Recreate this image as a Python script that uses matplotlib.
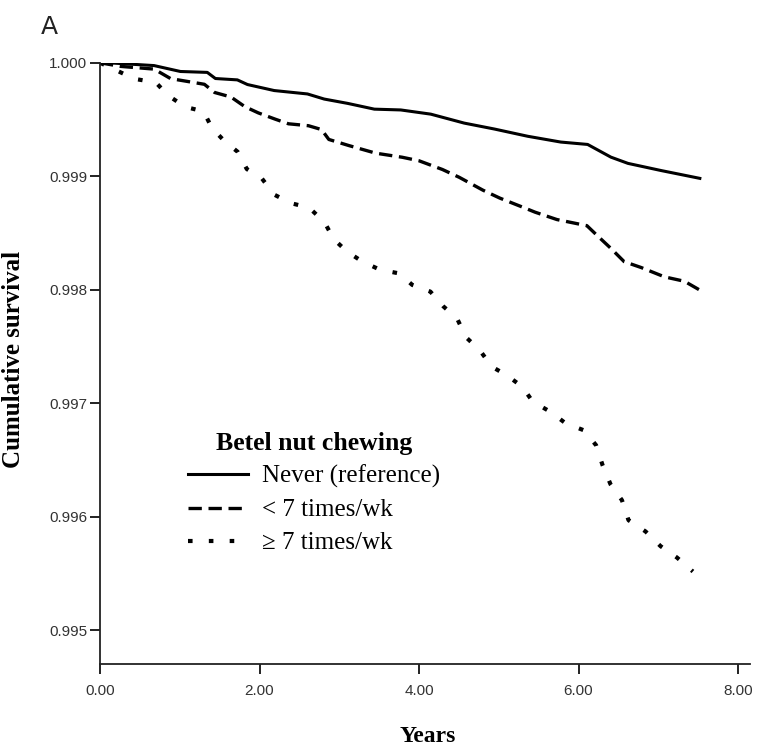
import numpy as np
import matplotlib
matplotlib.use("Agg")
import matplotlib.pyplot as plt

# cumulative survival (years, survival)
never_years = [0.0, 0.094, 0.678, 1.008, 1.345, 1.447, 1.722, 1.849, 2.184, 2.601,
               2.811, 3.104, 3.44, 3.771, 4.147, 4.567, 4.944, 5.363, 5.777, 6.114,
               6.406, 6.62, 7.035, 7.521]
never_surv = [1.0, 1.0, 0.999975, 0.999923, 0.999915, 0.999861, 0.999849, 0.999808,
              0.999755, 0.999725, 0.99968, 0.999642, 0.999591, 0.999584, 0.999547,
              0.999468, 0.999416, 0.999352, 0.999301, 0.99928, 0.999168, 0.999113,
              0.99905, 0.998981]

lt7_years = [0.0, 0.257, 0.679, 0.886, 1.099, 1.309, 1.437, 1.642, 1.816, 1.985,
             2.196, 2.363, 2.614, 2.778, 2.869, 3.121, 3.457, 3.79, 4.0, 4.294,
             4.505, 4.801, 5.013, 5.307, 5.455, 5.729, 6.105, 6.233, 6.404, 6.572,
             6.786, 7.077, 7.328, 7.519]
lt7_surv = [1.0, 0.999968, 0.999944, 0.99986, 0.999835, 0.99981, 0.999738, 0.999698,
            0.999613, 0.999558, 0.999503, 0.999462, 0.999445, 0.999411, 0.999324,
            0.99927, 0.999203, 0.999167, 0.999136, 0.999059, 0.99899, 0.998877,
            0.998807, 0.998725, 0.998683, 0.998618, 0.998564, 0.998478, 0.998365,
            0.998247, 0.998195, 0.998113, 0.998074, 0.997997]

ge7_years = [0.0, 0.433, 0.70, 0.855, 1.068, 1.298, 1.404, 1.559, 1.726, 1.841,
             2.032, 2.183, 2.395, 2.621, 2.814, 2.929, 3.10, 3.291, 3.51, 3.753,
             3.915, 4.142, 4.306, 4.477, 4.589, 4.761, 4.913, 5.104, 5.295, 5.426,
             5.646, 5.837, 6.069, 6.22, 6.302, 6.401, 6.544, 6.627, 6.84, 7.029,
             7.234, 7.434]
ge7_surv = [1.0, 0.999858, 0.999826, 0.999711, 0.999611, 0.999571, 0.999425, 0.99931,
            0.999215, 0.999063, 0.998978, 0.998838, 0.998762, 0.998723, 0.998596,
            0.998446, 0.998334, 0.998247, 0.998176, 0.998143, 0.998042, 0.997983,
            0.997852, 0.997746, 0.997581, 0.997467, 0.997321, 0.997244, 0.997144,
            0.997013, 0.996924, 0.996823, 0.99676, 0.996629, 0.996452, 0.996285,
            0.996145, 0.995968, 0.995869, 0.995739, 0.995639, 0.995516]

x_ticks = [0, 2, 4, 6, 8]
y_ticks = [0.995, 0.996, 0.997, 0.998, 0.999, 1.000]
labels = ["Never (reference)", "< 7 times/wk", "\u2265 7 times/wk"]

serif = ["Liberation Serif", "DejaVu Serif"]
narrow = ["Liberation Sans Narrow", "Liberation Sans", "DejaVu Sans"]

fig = plt.figure(figsize=(7.61, 7.47), dpi=100)
ax = fig.add_axes([100 / 761, 0.111, 650 / 761, 0.805])

ax.plot(never_years, never_surv, color="black", lw=2.2, label=labels[0])
ax.plot(lt7_years, lt7_surv, color="black", lw=2.4, dashes=(4.0, 2.0), label=labels[1])
ax.plot(ge7_years, ge7_surv, color="black", lw=3.0, dashes=(1.1, 3.9), label=labels[2])

ax.set_xlim(0, 8.15)
ax.set_ylim(0.99470, 1.0000)
ax.set_xticks(x_ticks)
ax.set_xticklabels([f"{t:.2f}" for t in x_ticks], family=narrow)
ax.set_yticks(y_ticks)
ax.set_yticklabels([f"{t:.3f}" for t in y_ticks], family=narrow)

for side in ["top", "right"]:
    ax.spines[side].set_visible(False)
for side in ["left", "bottom"]:
    ax.spines[side].set_linewidth(1.3)
    ax.spines[side].set_color("#222222")

ax.tick_params(axis="both", direction="out", length=7, width=1.4, color="#222222",
               labelsize=11, labelcolor="#333333")
ax.tick_params(axis="x", pad=7)
ax.tick_params(axis="y", pad=2)

ax.set_xlabel("Years", family=serif, fontweight="bold", fontsize=17)
ax.xaxis.set_label_coords((428 - 100) / 650, -0.103)
ax.set_ylabel("Cumulative survival", family=serif, fontweight="bold", fontsize=18)
ax.yaxis.set_label_coords(-0.115, 0.507)

leg = ax.legend(loc="upper left", bbox_to_anchor=(0.105, 0.42), frameon=False,
                title="Betel nut chewing", handlelength=2.4, handletextpad=0.55,
                labelspacing=0.42, borderpad=0.3, prop={"family": serif, "size": 18})
leg.get_title().set_fontproperties({"family": serif, "weight": "bold", "size": 18.5})

fig.text(49 / 761, 1 - 27 / 747, "A", fontsize=18, ha="center", va="center",
         color="#222222")

fig.savefig("out.png", dpi=100)
